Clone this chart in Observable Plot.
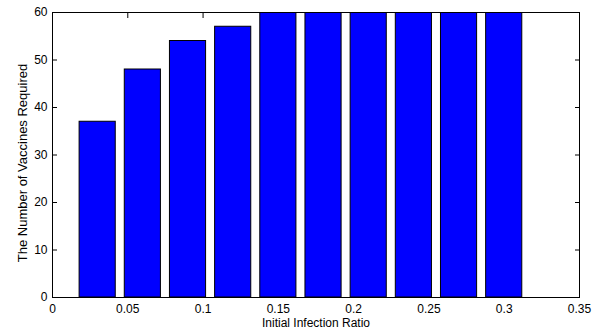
<!DOCTYPE html>
<html>
<head>
<meta charset="utf-8">
<script src="https://cdn.jsdelivr.net/npm/d3@7"></script>
<script src="https://cdn.jsdelivr.net/npm/@observablehq/plot@0.6"></script>
<style>
  html, body { margin: 0; padding: 0; background: #fff; }
  #chart svg { display: block; }
</style>
</head>
<body>
<div id="chart"></div>
<script>
const ratios = [0.03, 0.06, 0.09, 0.12, 0.15, 0.18, 0.21, 0.24, 0.27, 0.30];
const vaccines = [37, 48, 54, 57, 60, 60, 60, 60, 60, 60];
const xTicks = [0, 0.05, 0.1, 0.15, 0.2, 0.25, 0.3, 0.35];
const yTicks = [0, 10, 20, 30, 40, 50, 60];
const xLabel = "Initial Infection Ratio";
const yLabel = "The Number of Vaccines Required";
const barWidth = 0.024;

const data = ratios.map((r, i) => ({ratio: r, value: vaccines[i]}));
const fmt = d => `${d}`;

const chart = Plot.plot({
  width: 611,
  height: 333,
  marginLeft: 52,
  marginRight: 32,
  marginTop: 12,
  marginBottom: 36,
  style: {fontFamily: "'Liberation Sans', Arial, sans-serif", fontSize: "12px", color: "black", background: "white"},
  x: {domain: [0, 0.35]},
  y: {domain: [0, 60]},
  marks: [
    Plot.axisX({anchor: "bottom", ticks: xTicks, tickSize: -5, tickPadding: 12, tickFormat: fmt,
      label: xLabel, labelAnchor: "center", labelArrow: "none", labelOffset: 29, fontSize: 12}),
    Plot.axisX({anchor: "top", ticks: xTicks, tickSize: -5, tickFormat: () => "", label: null}),
    Plot.axisY({anchor: "left", ticks: yTicks, tickSize: -5, tickPadding: 10, tickFormat: fmt, label: null, fontSize: 12}),
    Plot.axisY({anchor: "right", ticks: yTicks, tickSize: -5, tickFormat: () => "", label: null}),
    Plot.text([yLabel], {frameAnchor: "left", text: d => d, rotate: -90, textAnchor: "middle",
      lineAnchor: "middle", dx: -30, dy: 8, fontSize: 13, fill: "black"}),
    Plot.rectY(data, {
      x1: d => d.ratio - barWidth / 2,
      x2: d => d.ratio + barWidth / 2,
      y1: 0,
      y2: "value",
      fill: "#0000ff",
      stroke: "black",
      strokeWidth: 1,
      clip: true
    }),
    Plot.frame({stroke: "black", strokeWidth: 1})
  ]
});
document.getElementById("chart").append(chart);
</script>
</body>
</html>
